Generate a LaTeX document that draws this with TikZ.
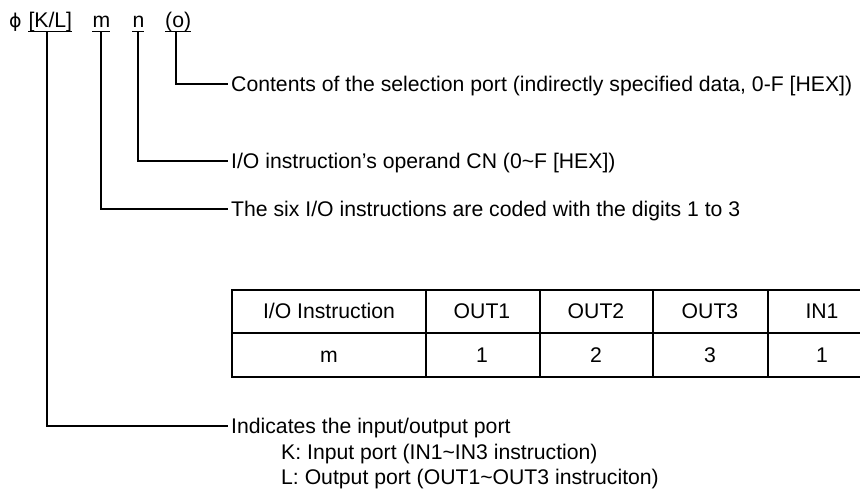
\documentclass[tikz,border=0pt]{standalone}
\usepackage{fontspec}
\setmainfont{Liberation Sans}
\newfontfamily\symfont{DejaVu Sans}
\begin{document}
\begin{tikzpicture}[x=1pt,y=-1pt,
  txt/.style={inner sep=0pt,font=\fontsize{21.2}{25}\selectfont},
  lbl/.style={txt,anchor=west,text height=15pt,text depth=0pt},
  hdr/.style={txt,anchor=base west},
  cell/.style={txt,anchor=base},
  conn/.style={line width=1.2pt},
  uline/.style={line width=1.5pt},
  outer/.style={line width=2.7pt},
  inner/.style={line width=1.8pt}]
\useasboundingbox (0,0) rectangle (860,497);
\clip (0,0) rectangle (860,497);
% header
\node[hdr] (phi) at (9,28) {\symfont\fontsize{19}{22}\selectfont ϕ};
\node[hdr] (kl) at (28.3,28) {[K/L]};
\node[hdr] (m) at (92.3,28) {m};
\node[hdr] (n) at (132.3,28) {n};
\node[hdr] (o) at (165,28) {(o)};
\foreach \k in {kl,m,n,o}
  \draw[uline] ([yshift=-3.6pt]\k.base west) -- ([yshift=-3.6pt]\k.base east);
\coordinate (klu) at (47,31.5);
\coordinate (mu) at (101,31.5);
\coordinate (nu) at (138,31.5);
\coordinate (ou) at (176,31.5);
% labels
\node[lbl] (lo) at (231,84) {Contents of the selection port (indirectly specified data, 0-F [HEX])};
\node[lbl] (ln) at (231,161) {I/O instruction’s operand CN (0\textasciitilde F [HEX])};
\node[lbl] (lm) at (231,209) {The six I/O instructions are coded with the digits 1 to 3};
\node[lbl] (lkl) at (231,426) {Indicates the input/output port};
\node[lbl] (lk) at (281,452) {K: Input port (IN1\textasciitilde IN3 instruction)};
\node[lbl] (ll) at (281,477) {L: Output port (OUT1\textasciitilde OUT3 instruciton)};
% connectors
\draw[conn] (ou) |- ([xshift=-3pt]lo.west);
\draw[conn] (nu) |- ([xshift=-3pt]ln.west);
\draw[conn] (mu) |- ([xshift=-3pt]lm.west);
\draw[conn] (klu) |- ([xshift=-3pt]lkl.west);
% table
\draw[inner] (426,290) -- (426,377) (540,290) -- (540,377)
             (653,290) -- (653,377) (768,290) -- (768,377);
\draw[outer] (882,290) -- (232,290) -- (232,377) -- (882,377);
\draw[outer] (232,333) -- (882,333);
\node[cell] (h1) at (329,319) {I/O Instruction};
\node[cell] (h2) at (482,319) {OUT1};
\node[cell] (h3) at (596,319) {OUT2};
\node[cell] (h4) at (710,319) {OUT3};
\node[cell] (h5) at (822,319) {IN1};
\node[cell] (v1) at (329,362) {m};
\node[cell] (v2) at (482,362) {1};
\node[cell] (v3) at (596,362) {2};
\node[cell] (v4) at (710,362) {3};
\node[cell] (v5) at (822,362) {1};
\end{tikzpicture}
\end{document}
